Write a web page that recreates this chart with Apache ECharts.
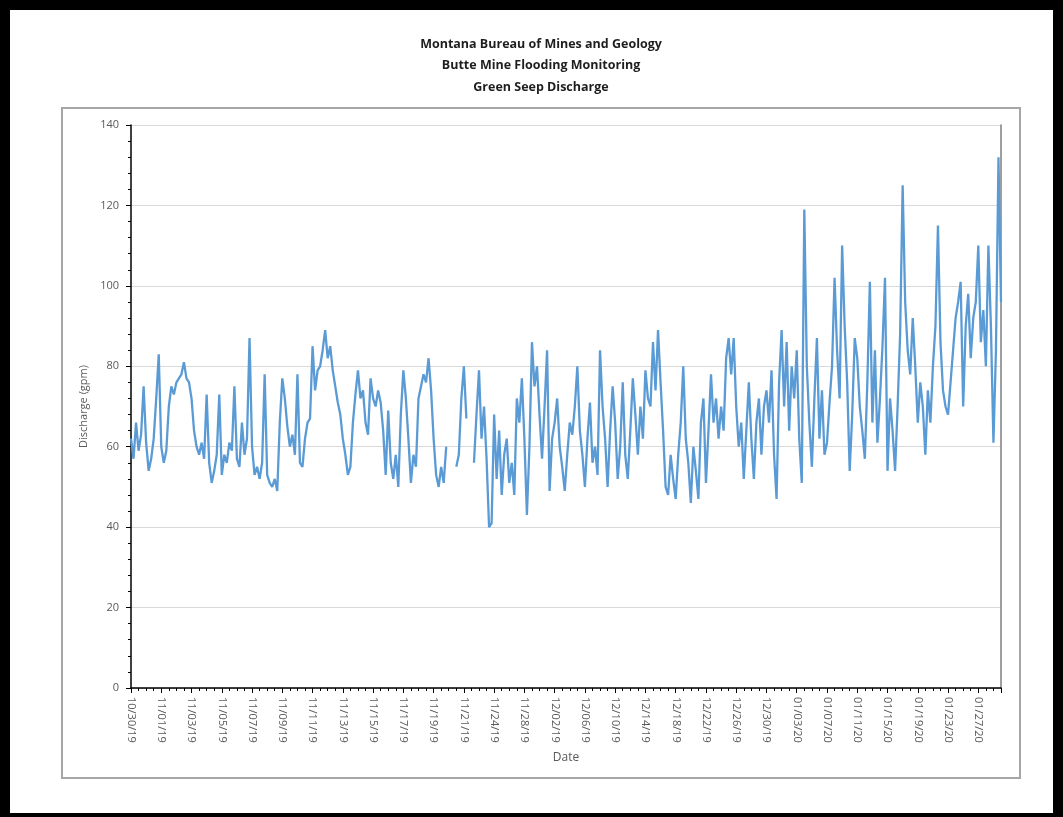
<!DOCTYPE html>
<html>
<head>
<meta charset="utf-8">
<title>Green Seep Discharge</title>
<script src="https://cdn.jsdelivr.net/npm/echarts@6/dist/echarts.min.js"></script>
<style>
  html, body { margin: 0; padding: 0; background: #ffffff; }
  #chart { width: 1063px; height: 817px; }
</style>
</head>
<body>
<div id="chart"></div>
<script>
// Date labels shown under every 12th reading
const tickLabels = [
  '10/30/19', '11/01/19', '11/03/19', '11/05/19', '11/07/19', '11/09/19',
  '11/11/19', '11/13/19', '11/15/19', '11/17/19', '11/19/19', '11/21/19',
  '11/24/19', '11/28/19', '12/02/19', '12/06/19', '12/10/19', '12/14/19',
  '12/18/19', '12/22/19', '12/26/19', '12/30/19', '01/03/20', '01/07/20',
  '01/11/20', '01/15/20', '01/19/20', '01/23/20', '01/27/20'
];
const readingsPerLabel = 12;

// Green Seep discharge readings, gpm (null = no reading)
const discharge = [
  62, 57, 66, 59, 63, 75, 61, 54, 57, 62, 72, 83,
  60, 56, 59, 70, 75, 73, 76, 77, 78, 81, 77, 76,
  72, 64, 60, 58, 61, 57, 73, 56, 51, 54, 58, 73,
  53, 58, 56, 61, 59, 75, 57, 55, 66, 58, 62, 87,
  60, 53, 55, 52, 56, 78, 53, 51, 50, 52, 49, 66,
  77, 72, 65, 60, 63, 58, 78, 56, 55, 62, 66, 67,
  85, 74, 79, 80, 84, 89, 82, 85, 79, 75, 71, 68,
  62, 58, 53, 55, 66, 73, 79, 72, 74, 66, 63, 77,
  72, 70, 74, 71, 64, 53, 69, 56, 52, 58, 50, 68,
  79, 72, 62, 51, 58, 55, 72, 75, 78, 76, 82, 74,
  62, 53, 50, 55, 51, 60, null, null, null, 55, 58, 72,
  80, 67, null, null, 56, 68, 79, 62, 70, 57, 40, 41,
  68, 52, 64, 48, 58, 62, 51, 56, 48, 72, 66, 77,
  62, 43, 60, 86, 75, 80, 68, 57, 70, 84, 49, 62,
  66, 72, 60, 55, 49, 58, 66, 63, 70, 80, 64, 58,
  50, 62, 71, 56, 60, 53, 84, 70, 62, 50, 64, 75,
  66, 52, 60, 76, 58, 52, 64, 77, 68, 58, 70, 62,
  79, 72, 70, 86, 74, 89, 76, 64, 50, 48, 58, 52,
  47, 58, 66, 80, 62, 56, 46, 60, 54, 47, 66, 72,
  51, 64, 78, 66, 72, 62, 70, 64, 82, 87, 78, 87,
  70, 60, 66, 52, 64, 76, 62, 52, 66, 72, 58, 70,
  74, 66, 79, 58, 47, 76, 89, 70, 86, 64, 80, 72,
  84, 62, 51, 119, 80, 66, 55, 72, 87, 62, 74, 58,
  61, 71, 80, 102, 84, 72, 110, 90, 76, 54, 68, 87,
  82, 70, 64, 57, 76, 101, 66, 84, 61, 72, 85, 102,
  54, 72, 64, 54, 70, 88, 125, 96, 84, 78, 92, 80,
  66, 76, 70, 58, 74, 66, 80, 90, 115, 86, 74, 70,
  68, 76, 84, 92, 96, 101, 70, 90, 98, 82, 92, 96,
  110, 86, 94, 80, 110, 90, 61, 84, 132, 96
];

const titleLines = [
  'Montana Bureau of Mines and Geology',
  'Butte Mine Flooding Monitoring',
  'Green Seep Discharge'
];
const yMin = 0, yMax = 140, yStep = 20;

const FONT = "'Open Sans', 'Liberation Sans', sans-serif";
const AXIS_TEXT = '#595959';

const chart = echarts.init(document.getElementById('chart'), null, { renderer: 'canvas' });

const seriesData = discharge.map((v, i) => [i, v == null ? '-' : v]);

const titleGraphics = titleLines.map((t, i) => ({
  type: 'text',
  x: 541,
  y: 44 + i * 21.5,
  silent: true,
  style: {
    text: t,
    align: 'center',
    verticalAlign: 'middle',
    textAlign: 'center',
    textVerticalAlign: 'middle',
    font: "700 12.5px 'Open Sans', 'Liberation Sans', sans-serif",
    fill: '#1e1e1e'
  }
}));

const option = {
  animation: false,
  backgroundColor: '#ffffff',
  grid: { left: 131, right: 62, top: 125, bottom: 129, containLabel: false },
  xAxis: {
    type: 'value',
    min: 0,
    max: discharge.length - 1,
    interval: readingsPerLabel,
    name: 'Date',
    nameLocation: 'middle',
    nameGap: 64,
    nameTextStyle: { color: AXIS_TEXT, fontSize: 12, fontFamily: FONT },
    axisLine: { show: true, onZero: false, lineStyle: { color: '#000000', width: 1.5 } },
    axisTick: { show: true, length: 5, lineStyle: { color: '#000000', width: 1 } },
    minorTick: { show: true, splitNumber: 4, length: 3, lineStyle: { color: '#000000', width: 1 } },
    splitLine: { show: false },
    minorSplitLine: { show: false },
    axisLabel: {
      rotate: -90,
      margin: 9,
      color: AXIS_TEXT,
      fontSize: 11,
      fontFamily: FONT,
      showMaxLabel: false,
      formatter: (v) => (v % readingsPerLabel === 0 ? (tickLabels[v / readingsPerLabel] || '') : '')
    }
  },
  yAxis: [
    {
      type: 'value',
      min: yMin,
      max: yMax,
      interval: yStep,
      name: 'Discharge (gpm)',
      nameLocation: 'middle',
      nameGap: 35,
      nameTextStyle: { color: AXIS_TEXT, fontSize: 11, fontFamily: FONT },
      axisLine: { show: true, lineStyle: { color: '#000000', width: 1.5 } },
      axisTick: { show: true, length: 5, lineStyle: { color: '#000000', width: 1 } },
      minorTick: { show: true, splitNumber: 5, length: 3, lineStyle: { color: '#000000', width: 1 } },
      axisLabel: { margin: 12, color: AXIS_TEXT, fontSize: 11, fontFamily: FONT },
      splitLine: { show: true, lineStyle: { color: '#d9d9d9', width: 1 } }
    },
    {
      type: 'value',
      position: 'right',
      min: yMin,
      max: yMax,
      interval: yStep,
      axisLine: { show: true, lineStyle: { color: '#7f7f7f', width: 1.5 } },
      axisTick: { show: false },
      axisLabel: { show: false },
      splitLine: { show: false }
    }
  ],
  series: [
    {
      type: 'line',
      data: seriesData,
      showSymbol: false,
      connectNulls: false,
      lineStyle: { color: '#5b9bd5', width: 2.3 },
      itemStyle: { color: '#5b9bd5' },
      emphasis: { disabled: true }
    }
  ],
  graphic: [
    // plot-area frame
    {
      type: 'rect', silent: true, z: -1,
      shape: { x: 62, y: 108, width: 958, height: 670 },
      style: { fill: 'none', stroke: '#a6a6a6', lineWidth: 2 }
    },
    // outer black border
    { type: 'rect', silent: true, shape: { x: 0, y: 0, width: 1063, height: 10 }, style: { fill: '#000000' } },
    { type: 'rect', silent: true, shape: { x: 0, y: 0, width: 10, height: 817 }, style: { fill: '#000000' } },
    { type: 'rect', silent: true, shape: { x: 1053, y: 0, width: 10, height: 817 }, style: { fill: '#000000' } },
    { type: 'rect', silent: true, shape: { x: 0, y: 813, width: 1063, height: 4 }, style: { fill: '#000000' } }
  ].concat(titleGraphics)
};

chart.setOption(option);
</script>
</body>
</html>
